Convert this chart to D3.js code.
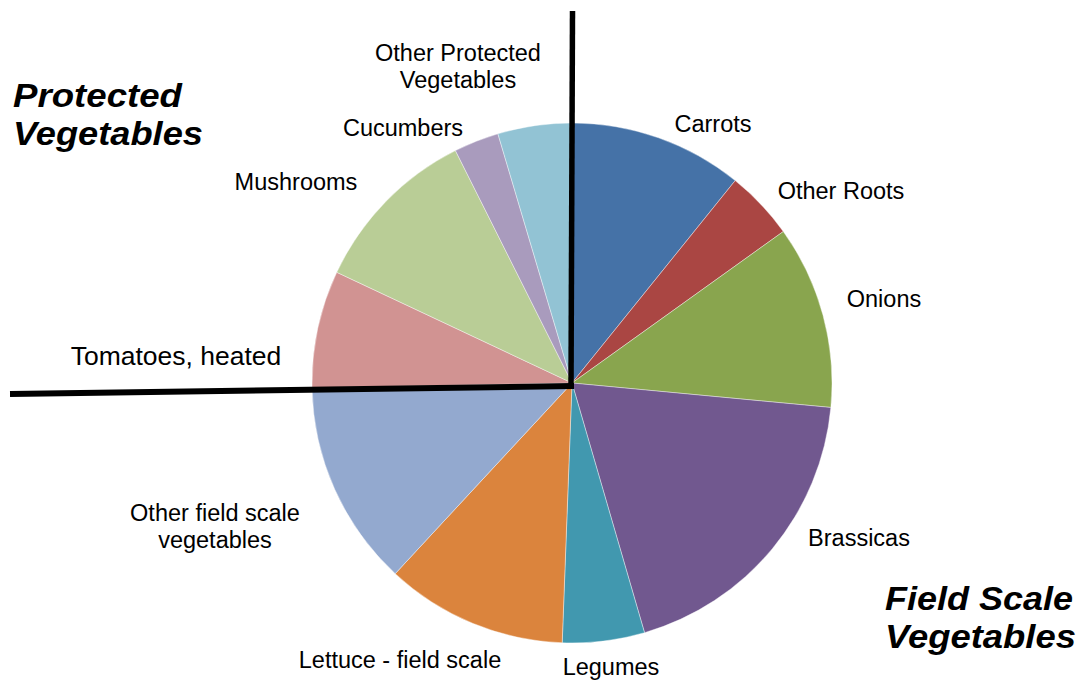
<!DOCTYPE html>
<html><head><meta charset="utf-8">
<script src="https://cdn.jsdelivr.net/npm/d3@7"></script>
<style>body{margin:0;background:#fff}svg{display:block}text{font-family:"Liberation Sans",Arial,sans-serif;fill:#000}</style>
</head><body>
<svg id="c" width="1085" height="686"></svg>
<script>
const categories = ["Carrots","Other Roots","Onions","Brassicas","Legumes","Lettuce - field scale","Other field scale vegetables","Tomatoes, heated","Mushrooms","Cucumbers","Other Protected Vegetables"];
const values = [10.8, 4.3, 11.4, 19.0, 5.1, 11.3, 12.8, 7.3, 10.6, 2.8, 4.6];
const colors = ["#4572A7","#AA4643","#89A54E","#71588F","#4198AF","#DB843D","#93A9CF","#D19392","#B9CD96","#A99BBD","#92C3D4"];
const labelLines = [["Carrots"],["Other Roots"],["Onions"],["Brassicas"],["Legumes"],["Lettuce - field scale"],["Other field scale","vegetables"],["Tomatoes, heated"],["Mushrooms"],["Cucumbers"],["Other Protected","Vegetables"]];
const labelPos = [[713,132],[841,199],[884,307],[859,546],[611,675],[400,668],[215,521],[176,365],[296,190],[403,136],[458,61]];
const labelSize = [23.5,23.5,23.5,23.5,23.5,23.5,23.5,26.5,23.5,23.5,23.5];
const groupTitles = [{lines:["Protected","Vegetables"], x:13, y:[107,145], w:[169,190]},{lines:["Field Scale","Vegetables"], x:885, y:[610,648], w:[188,191]}];

const svg = d3.select("#c");
const cx = 572, cy = 383, R = 260;
const pie = d3.pie().sort(null).value(d => d)(values);
const arc = d3.arc().innerRadius(0).outerRadius(R);
const color = d3.scaleOrdinal().domain(categories).range(colors);
const g = svg.append("g").attr("transform", `translate(${cx},${cy})`);
g.selectAll("path").data(pie).join("path")
  .attr("d", arc).attr("fill", (d,i) => color(categories[i]))
  .attr("stroke", "#fff").attr("stroke-width", 0.4);

categories.forEach((c,i) => {
  const t = svg.append("text").attr("text-anchor","middle").attr("font-size", labelSize[i]);
  labelLines[i].forEach((ln,j) => {
    t.append("tspan").attr("x", labelPos[i][0]).attr("y", labelPos[i][1] + j*26.5).text(ln);
  });
});

svg.append("line").attr("x1",572.5).attr("y1",11).attr("x2",571).attr("y2",386).attr("stroke","#000").attr("stroke-width",5.5);
svg.append("line").attr("x1",10).attr("y1",394).attr("x2",574).attr("y2",386).attr("stroke","#000").attr("stroke-width",6);

groupTitles.forEach(gt => {
  gt.lines.forEach((ln,j) => {
    svg.append("text").attr("x", gt.x).attr("y", gt.y[j]).attr("font-size", 34)
      .attr("font-weight","bold").attr("font-style","italic")
      .attr("textLength", gt.w[j]).attr("lengthAdjust","spacingAndGlyphs").text(ln);
  });
});
</script>
</body></html>
